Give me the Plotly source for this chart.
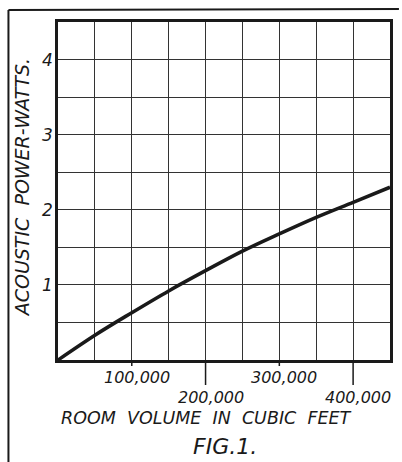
import plotly.graph_objects as go

# Data
volume_cuft = [0, 50000, 100000, 150000, 200000, 250000, 300000, 350000, 400000, 450000]
power_watts = [0, 0.33, 0.63, 0.92, 1.19, 1.45, 1.68, 1.90, 2.10, 2.30]

x_tick_vals = [100000, 200000, 300000, 400000]
x_tick_text = ["100,000", "200,000", "300,000", "400,000"]
x_tick_row = [0, 1, 0, 1]  # staggered label rows
y_tick_vals = [1, 2, 3, 4]
y_tick_text = ["1", "2", "3", "4"]

FONT = "DejaVu Sans"
INK = "#1a1a1a"

fig = go.Figure()
fig.add_trace(go.Scatter(
    x=volume_cuft, y=power_watts, mode="lines",
    line=dict(color=INK, width=3.5, shape="spline", smoothing=1.0),
    hoverinfo="skip", showlegend=False,
))

annotations = []
for v, t, r in zip(x_tick_vals, x_tick_text, x_tick_row):
    annotations.append(dict(
        x=v, y=0, xref="x", yref="y", text=f"<i>{t}</i>", showarrow=False,
        xanchor="center", yanchor="middle", xshift=5, yshift=-17 - 20 * r,
        font=dict(family=FONT, size=16, color=INK),
    ))
for v, t in zip(y_tick_vals, y_tick_text):
    annotations.append(dict(
        x=0, y=v, xref="x", yref="y", text=f"<i>{t}</i>", showarrow=False,
        xanchor="center", yanchor="middle", xshift=-11, yshift=0,
        font=dict(family=FONT, size=17, color=INK),
    ))
annotations.append(dict(
    x=(22 - 58) / 335, y=(360 - 188) / 338, xref="paper", yref="paper",
    text="<i>ACOUSTIC  POWER-WATTS.</i>", textangle=-90, showarrow=False,
    xanchor="center", yanchor="middle",
    font=dict(family=FONT, size=19, color=INK),
))
annotations.append(dict(
    x=(208 - 58) / 335, y=(360 - 418) / 338, xref="paper", yref="paper",
    text="<i>ROOM  VOLUME  IN  CUBIC  FEET</i>", showarrow=False,
    xanchor="center", yanchor="middle",
    font=dict(family=FONT, size=17.5, color=INK),
))
annotations.append(dict(
    x=(227 - 58) / 335, y=(360 - 446) / 338, xref="paper", yref="paper",
    text="<i>FIG.1.</i>", showarrow=False,
    xanchor="center", yanchor="middle",
    font=dict(family=FONT, size=22, color=INK),
))

shapes = []
# longer tick marks for staggered labels
for v, r in zip(x_tick_vals, x_tick_row):
    shapes.append(dict(type="line", xref="x", yref="paper", x0=v, x1=v,
                       y0=0, y1=-(6 + 19 * r) / 338, line=dict(color=INK, width=1.5)))
# outer frame of the printed figure
shapes.append(dict(type="line", xref="paper", yref="paper",
                   x0=(8 - 58) / 335, x1=(402 - 58) / 335,
                   y0=(360 - 10) / 338, y1=(360 - 9) / 338,
                   line=dict(color=INK, width=2)))
shapes.append(dict(type="line", xref="paper", yref="paper",
                   x0=(8 - 58) / 335, x1=(8 - 58) / 335,
                   y0=(360 - 10) / 338, y1=(360 - 462) / 338,
                   line=dict(color=INK, width=2)))

fig.update_layout(
    width=402, height=462,
    margin=dict(l=58, r=9, t=22, b=102),
    paper_bgcolor="white", plot_bgcolor="white",
    annotations=annotations, shapes=shapes,
    xaxis=dict(range=[0, 450000], dtick=50000, tick0=0, showticklabels=False,
               showgrid=True, gridcolor="#333333", gridwidth=1.3,
               showline=True, mirror=True, linecolor=INK, linewidth=2.5,
               zeroline=False, ticks="", fixedrange=True),
    yaxis=dict(range=[0, 4.5], dtick=0.5, tick0=0, showticklabels=False,
               showgrid=True, gridcolor="#333333", gridwidth=1.3,
               showline=True, mirror=True, linecolor=INK, linewidth=2.5,
               zeroline=False, ticks="", fixedrange=True),
)

fig.write_html(
    "out.html",
    config={"displayModeBar": False},
    post_script="document.body.style.margin='0';document.body.style.overflow='hidden';",
)
